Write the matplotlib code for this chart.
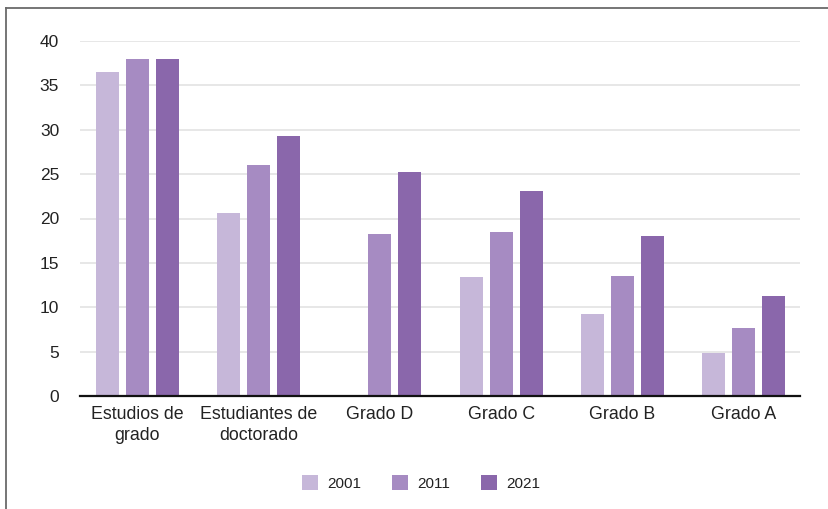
import matplotlib.pyplot as plt
import numpy as np
from matplotlib.lines import Line2D

plt.rcParams['font.family'] = ['Liberation Sans', 'DejaVu Sans']

categories = ['Estudios de\ngrado', 'Estudiantes de\ndoctorado', 'Grado D', 'Grado C', 'Grado B', 'Grado A']
years = ['2001', '2011', '2021']
v2001 = [36.5, 20.6, 0, 13.4, 9.2, 4.9]
v2011 = [38.0, 26.0, 18.2, 18.5, 13.5, 7.7]
v2021 = [38.0, 29.3, 25.2, 23.1, 18.0, 11.3]
colors = ['#c6b7d9', '#a68bc2', '#8a67ab']

fig = plt.figure(figsize=(8.29, 5.09), dpi=100)
ax = fig.add_axes([80 / 829, 1 - 396 / 509, 720 / 829, 355 / 509])

x = np.arange(len(categories))
width = 0.19
for i, (vals, year) in enumerate(zip([v2001, v2011, v2021], years)):
    ax.bar(x + (i - 1) * 0.2475, vals, width, color=colors[i], label=year, zorder=3)

ax.set_xlim(-0.474, 5.466)
ax.set_ylim(0, 40)
ax.set_yticks(np.arange(0, 41, 5))
ax.yaxis.grid(True, color='#e3e3e3', linewidth=1.2, zorder=0)
ax.set_xticks(x)
ax.set_xticklabels(categories, fontsize=12.8, color='#222222', linespacing=1.3)
ax.tick_params(axis='both', length=0, colors='#222222')
ax.tick_params(axis='y', pad=15, labelsize=12.5)
ax.tick_params(axis='x', pad=7)
for s in ['top', 'right', 'left']:
    ax.spines[s].set_visible(False)
ax.spines['bottom'].set_color('#111111')
ax.spines['bottom'].set_linewidth(1.6)
ax.spines['bottom'].set_zorder(4)

fig.legend(loc='center', bbox_to_anchor=(421 / 829, 1 - 483 / 509), ncol=3, frameon=False,
           fontsize=11, handlelength=1.05, handleheight=1.05, columnspacing=2.0, handletextpad=0.6,
           labelcolor='#222222')

# frame lines at top and left
fig.add_artist(Line2D([6 / 829, 1], [1 - 8 / 509, 1 - 8 / 509], color='#6a6a6a', linewidth=1.3))
fig.add_artist(Line2D([6 / 829, 6 / 829], [0, 1 - 8 / 509], color='#6a6a6a', linewidth=1.3))

fig.savefig('out.png', dpi=100)
